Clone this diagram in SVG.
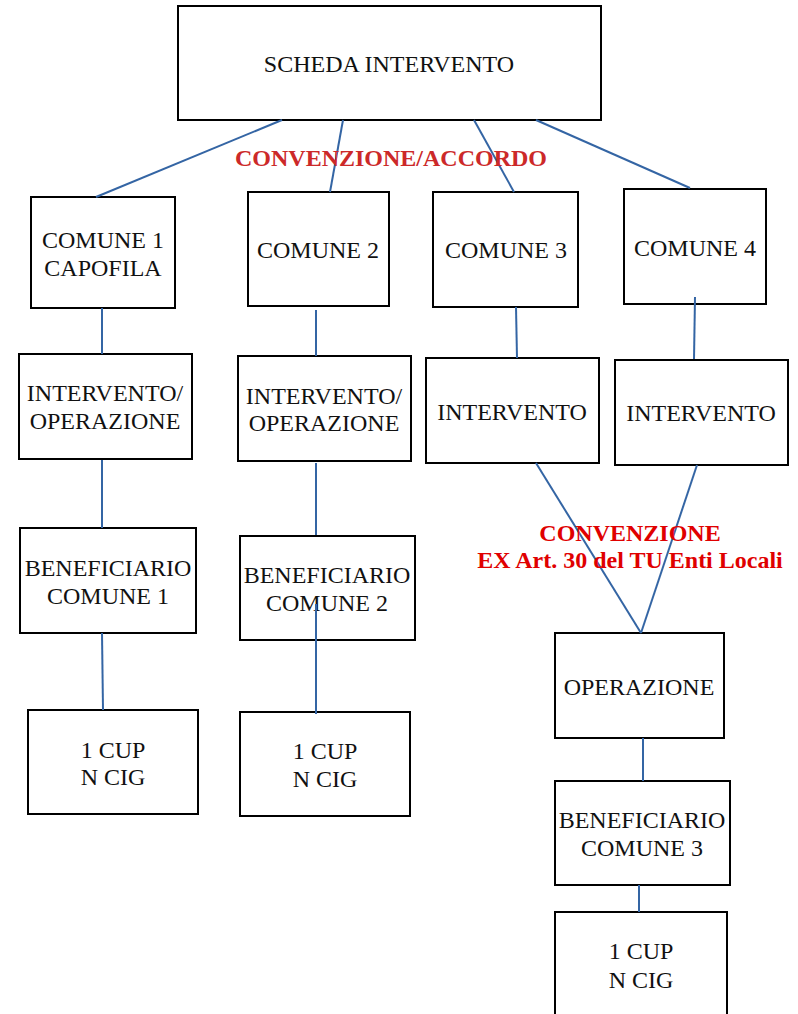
<svg xmlns="http://www.w3.org/2000/svg" width="798" height="1014" viewBox="0 0 798 1014">
<style>
.box{fill:#fff;stroke:#000;stroke-width:2}
.t{font-family:"Liberation Serif",serif;font-size:24px;fill:#111;text-anchor:middle}
.r{font-family:"Liberation Serif",serif;font-size:24px;font-weight:bold;text-anchor:middle}
.c line{stroke:#3465a4;stroke-width:2}
</style>
<rect width="798" height="1014" fill="#fff"/>
<g id="n-scheda"><rect class="box" x="178" y="6" width="423" height="114"/><text class="t" x="389" y="72">SCHEDA INTERVENTO</text></g>
<g id="n-comune1"><rect class="box" x="31" y="197" width="144" height="111"/><text class="t" x="103" y="248">COMUNE 1</text><text class="t" x="103" y="276">CAPOFILA</text></g>
<g id="n-comune2"><rect class="box" x="248" y="192" width="141" height="114"/><text class="t" x="318" y="258">COMUNE 2</text></g>
<g id="n-comune3"><rect class="box" x="433" y="192" width="145" height="115"/><text class="t" x="506" y="258">COMUNE 3</text></g>
<g id="n-comune4"><rect class="box" x="624" y="189" width="142" height="115"/><text class="t" x="695" y="256">COMUNE 4</text></g>
<g id="n-int1"><rect class="box" x="19" y="354" width="173" height="105"/><text class="t" x="105" y="401">INTERVENTO/</text><text class="t" x="105" y="429">OPERAZIONE</text></g>
<g id="n-int2"><rect class="box" x="238" y="356" width="173" height="105"/><text class="t" x="324" y="404">INTERVENTO/</text><text class="t" x="324" y="431">OPERAZIONE</text></g>
<g id="n-int3"><rect class="box" x="426" y="358" width="173" height="105"/><text class="t" x="512" y="420">INTERVENTO</text></g>
<g id="n-int4"><rect class="box" x="615" y="360" width="173" height="105"/><text class="t" x="701" y="421">INTERVENTO</text></g>
<g id="n-ben1"><rect class="box" x="20" y="528" width="176" height="105"/><text class="t" x="108" y="576">BENEFICIARIO</text><text class="t" x="108" y="604">COMUNE 1</text></g>
<g id="n-ben2"><rect class="box" x="240" y="536" width="175" height="104"/><text class="t" x="327" y="583">BENEFICIARIO</text><text class="t" x="327" y="611">COMUNE 2</text></g>
<g id="n-cup1"><rect class="box" x="28" y="710" width="170" height="104"/><text class="t" x="113" y="758">1 CUP</text><text class="t" x="113" y="785">N CIG</text></g>
<g id="n-cup2"><rect class="box" x="240" y="712" width="170" height="104"/><text class="t" x="325" y="759">1 CUP</text><text class="t" x="325" y="787">N CIG</text></g>
<g id="n-oper"><rect class="box" x="555" y="633" width="169" height="105"/><text class="t" x="639" y="695">OPERAZIONE</text></g>
<g id="n-ben3"><rect class="box" x="555" y="781" width="175" height="104"/><text class="t" x="642" y="828">BENEFICIARIO</text><text class="t" x="642" y="856">COMUNE 3</text></g>
<g id="n-cup3"><rect class="box" x="555" y="912" width="172" height="110"/><text class="t" x="641" y="959">1 CUP</text><text class="t" x="641" y="988">N CIG</text></g>
<g id="connectors" class="c">
<line x1="282" y1="120" x2="96" y2="197"/>
<line x1="343" y1="120" x2="330" y2="192"/>
<line x1="474" y1="120" x2="514" y2="192"/>
<line x1="536" y1="120" x2="690" y2="188"/>
<line x1="102" y1="308" x2="102" y2="354"/>
<line x1="316" y1="310" x2="316" y2="356"/>
<line x1="516" y1="307" x2="517" y2="358"/>
<line x1="695" y1="297" x2="694" y2="359"/>
<line x1="102" y1="460" x2="102" y2="528"/>
<line x1="316" y1="463" x2="316" y2="535"/>
<line x1="316" y1="604" x2="316" y2="714"/>
<line x1="102" y1="633" x2="103" y2="710"/>
<line x1="536" y1="463" x2="641" y2="633"/>
<line x1="697" y1="465" x2="641" y2="633"/>
<line x1="643" y1="738" x2="643" y2="781"/>
<line x1="639" y1="885" x2="639" y2="912"/>
</g>
<text class="r" x="391" y="166" fill="#cc2929">CONVENZIONE/ACCORDO</text>
<text class="r" x="630" y="541" fill="#e00000">CONVENZIONE</text>
<text class="r" x="630" y="568" fill="#e00000">EX Art. 30 del TU Enti Locali</text>
</svg>
